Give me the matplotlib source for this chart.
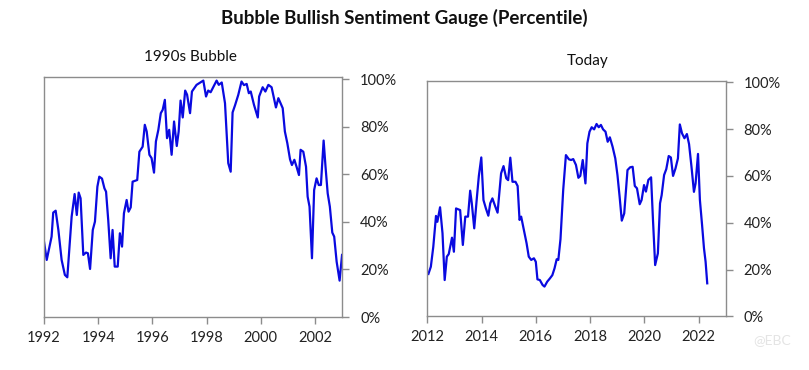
import matplotlib.pyplot as plt
from matplotlib.ticker import PercentFormatter

plt.rcParams['font.family'] = ['Lato', 'DejaVu Sans']

# 1990s bubble: (fractional year, percentile)
years_90s = [1992.00, 1992.10, 1992.28, 1992.34, 1992.43, 1992.53, 1992.65, 1992.77,
             1992.86, 1993.02, 1993.13, 1993.21, 1993.28, 1993.35, 1993.45, 1993.55,
             1993.62, 1993.70, 1993.80, 1993.88, 1993.97, 1994.04, 1994.14, 1994.23,
             1994.29, 1994.37, 1994.46, 1994.53, 1994.61, 1994.72, 1994.80, 1994.88,
             1994.95, 1995.05, 1995.12, 1995.20, 1995.27, 1995.44, 1995.52, 1995.64,
             1995.72, 1995.79, 1995.89, 1995.97, 1996.06, 1996.13, 1996.22, 1996.31,
             1996.38, 1996.46, 1996.54, 1996.62, 1996.71, 1996.80, 1996.90, 1996.97,
             1997.04, 1997.12, 1997.21, 1997.28, 1997.39, 1997.46, 1997.63, 1997.88,
             1997.98, 1998.06, 1998.15, 1998.37, 1998.45, 1998.56, 1998.68, 1998.80,
             1998.89, 1998.96, 1999.05, 1999.17, 1999.29, 1999.38, 1999.48, 1999.56,
             1999.63, 1999.75, 1999.89, 1999.94, 2000.07, 2000.17, 2000.28, 2000.40,
             2000.56, 2000.65, 2000.81, 2000.89, 2000.98, 2001.08, 2001.15, 2001.24,
             2001.32, 2001.41, 2001.47, 2001.57, 2001.67, 2001.73, 2001.80, 2001.89,
             2001.97, 2002.06, 2002.14, 2002.22, 2002.32, 2002.39, 2002.47, 2002.55,
             2002.64, 2002.71, 2002.80, 2002.91, 2003.00]
pct_90s = [0.317, 0.240, 0.338, 0.439, 0.447, 0.366, 0.240, 0.177,
           0.167, 0.422, 0.517, 0.429, 0.523, 0.499, 0.261, 0.271,
           0.268, 0.202, 0.366, 0.401, 0.548, 0.590, 0.582, 0.541,
           0.527, 0.408, 0.247, 0.366, 0.212, 0.212, 0.352, 0.296,
           0.436, 0.492, 0.443, 0.461, 0.569, 0.576, 0.695, 0.716,
           0.808, 0.780, 0.682, 0.668, 0.607, 0.738, 0.787, 0.857,
           0.871, 0.913, 0.752, 0.787, 0.682, 0.822, 0.719, 0.780,
           0.910, 0.839, 0.952, 0.935, 0.857, 0.948, 0.976, 0.994,
           0.927, 0.952, 0.945, 0.994, 0.976, 0.986, 0.899, 0.647,
           0.611, 0.860, 0.890, 0.934, 0.990, 0.975, 0.980, 0.941,
           0.948, 0.892, 0.839, 0.927, 0.966, 0.948, 0.976, 0.966,
           0.881, 0.920, 0.878, 0.780, 0.731, 0.663, 0.639, 0.661,
           0.632, 0.597, 0.703, 0.695, 0.632, 0.506, 0.464, 0.247,
           0.534, 0.583, 0.555, 0.555, 0.742, 0.632, 0.520, 0.464,
           0.355, 0.338, 0.233, 0.153, 0.261]

# Today: (fractional year, percentile)
years_now = [2012.04, 2012.13, 2012.22, 2012.32, 2012.37, 2012.47, 2012.56, 2012.64,
             2012.72, 2012.79, 2012.91, 2012.98, 2013.06, 2013.21, 2013.31, 2013.40,
             2013.50, 2013.58, 2013.64, 2013.73, 2013.83, 2013.90, 2013.99, 2014.07,
             2014.16, 2014.25, 2014.32, 2014.40, 2014.50, 2014.59, 2014.72, 2014.81,
             2014.91, 2014.98, 2015.06, 2015.14, 2015.25, 2015.33, 2015.40, 2015.46,
             2015.56, 2015.66, 2015.74, 2015.83, 2015.93, 2016.00, 2016.06, 2016.15,
             2016.25, 2016.32, 2016.42, 2016.52, 2016.61, 2016.69, 2016.77, 2016.83,
             2016.91, 2017.01, 2017.11, 2017.22, 2017.30, 2017.38, 2017.48, 2017.57,
             2017.64, 2017.73, 2017.83, 2017.90, 2017.98, 2018.06, 2018.15, 2018.24,
             2018.32, 2018.40, 2018.48, 2018.57, 2018.65, 2018.73, 2018.83, 2018.93,
             2019.01, 2019.09, 2019.17, 2019.26, 2019.38, 2019.48, 2019.57, 2019.65,
             2019.73, 2019.83, 2019.90, 2019.99, 2020.06, 2020.15, 2020.25, 2020.32,
             2020.40, 2020.50, 2020.58, 2020.64, 2020.73, 2020.81, 2020.90, 2020.98,
             2021.06, 2021.15, 2021.24, 2021.31, 2021.39, 2021.48, 2021.57, 2021.65,
             2021.74, 2021.83, 2021.89, 2021.98, 2022.05, 2022.13, 2022.20, 2022.26,
             2022.32]
pct_now = [0.181, 0.212, 0.297, 0.429, 0.404, 0.466, 0.355, 0.155,
           0.255, 0.266, 0.336, 0.276, 0.461, 0.454, 0.305, 0.426,
           0.426, 0.537, 0.483, 0.376, 0.511, 0.600, 0.679, 0.497,
           0.461, 0.430, 0.483, 0.504, 0.471, 0.443, 0.611, 0.642,
           0.590, 0.582, 0.678, 0.575, 0.575, 0.557, 0.412, 0.426,
           0.369, 0.312, 0.255, 0.241, 0.248, 0.233, 0.158, 0.155,
           0.134, 0.127, 0.148, 0.162, 0.176, 0.205, 0.244, 0.241,
           0.330, 0.540, 0.689, 0.671, 0.668, 0.672, 0.647, 0.592,
           0.600, 0.668, 0.568, 0.739, 0.789, 0.808, 0.799, 0.822,
           0.808, 0.818, 0.799, 0.789, 0.746, 0.765, 0.725, 0.675,
           0.604, 0.511, 0.409, 0.440, 0.625, 0.637, 0.639, 0.557,
           0.547, 0.479, 0.497, 0.561, 0.533, 0.583, 0.594, 0.412,
           0.219, 0.269, 0.483, 0.518, 0.604, 0.629, 0.685, 0.679,
           0.600, 0.632, 0.675, 0.820, 0.782, 0.761, 0.779, 0.736,
           0.639, 0.532, 0.568, 0.694, 0.497, 0.390, 0.291, 0.233,
           0.141]

line_color = '#0a0ae0'
spine_color = '#8c8c8c'

fig = plt.figure(figsize=(8.09, 3.70), dpi=100)
ax1 = fig.add_axes([0.0544, 0.1432, 0.3684, 0.648])
ax2 = fig.add_axes([0.5282, 0.1451, 0.3688, 0.6368])

panels = [
    (ax1, years_90s, pct_90s, (1992, 2003), range(1992, 2003, 2), 1.008),
    (ax2, years_now, pct_now, (2012, 2023), range(2012, 2023, 2), 1.007),
]
for ax, xs, ys, xlim, xticks, ytop in panels:
    ax.plot(xs, ys, color=line_color, linewidth=1.6)
    ax.set_xlim(*xlim)
    ax.set_ylim(0, ytop)
    ax.set_xticks(list(xticks))
    ax.set_yticks([0, 0.2, 0.4, 0.6, 0.8, 1.0])
    ax.yaxis.set_major_formatter(PercentFormatter(1.0, decimals=0))
    ax.yaxis.tick_right()
    for s in ax.spines.values():
        s.set_color(spine_color)
        s.set_linewidth(1.0)
    ax.tick_params(axis='both', colors=spine_color, labelcolor='#222222',
                   labelsize=10.5, length=5, width=1.0, direction='out')
    ax.tick_params(axis='x', pad=5)
    ax.tick_params(axis='y', pad=8)

fig.text(0.5, 0.951, 'Bubble Bullish Sentiment Gauge (Percentile)',
         ha='center', va='center', fontsize=13.5, fontweight='bold', color='#111111')
fig.text(0.236, 0.846, '1990s Bubble', ha='center', va='center', fontsize=11, color='#111111')
fig.text(0.726, 0.835, 'Today', ha='center', va='center', fontsize=11, color='#111111')
fig.text(0.955, 0.08, '@EBC', ha='center', va='center', fontsize=10, color='#e4e4e4')

fig.savefig('out.png', dpi=100)
